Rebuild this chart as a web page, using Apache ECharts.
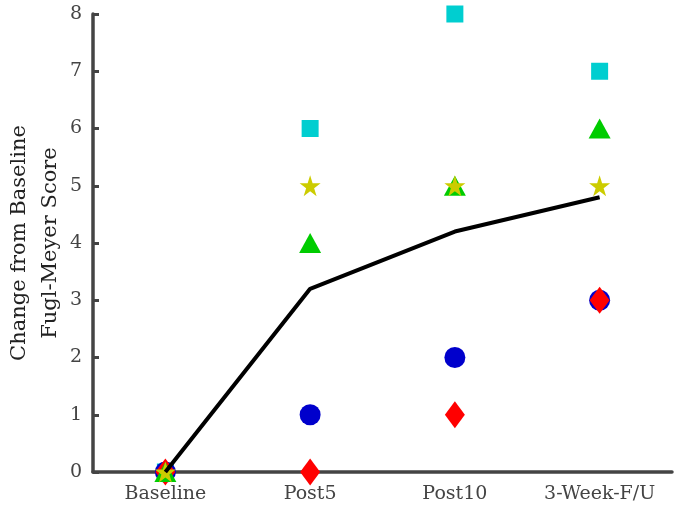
<!DOCTYPE html>
<html>
<head>
<meta charset="utf-8">
<script src="https://cdn.jsdelivr.net/npm/echarts@6/dist/echarts.min.js"></script>
<style>
  html, body { margin: 0; padding: 0; background: #fff; }
  #main { width: 681px; height: 518px; }
</style>
</head>
<body>
<div id="main"></div>
<script>
// categories and per-subject scores (change from baseline)
var categories = ['Baseline', 'Post5', 'Post10', '3-Week-F/U']
var squareData = [0, 6, 8, 7]
var triangleData = [0, 4, 5, 6]
var starData = [0, 5, 5, 5]
var circleData = [0, 1, 2, 3]
var diamondData = [0, 0, 1, 3]
var meanData = [0, 3.2, 4.2, 4.8]
var yTicks = [0, 1, 2, 3, 4, 5, 6, 7, 8]

var myEcharts = echarts.init(document.getElementById('main'))

var fontFam = 'DejaVu Serif'
var axisColor = '#444444'

function scatter(data, symbol, size, color) {
    return {
        type: 'scatter',
        data: data,
        symbol: symbol,
        symbolSize: size,
        itemStyle: { color: color, opacity: 1 },
        silent: true
    }
}

var option = {
    animation: false,
    backgroundColor: '#fff',
    grid: {
        left: 93,
        right: 9,
        top: 14,
        bottom: 46,
        outerBoundsMode: 'none',
        containLabel: false
    },
    xAxis: {
        type: 'category',
        data: categories,
        boundaryGap: true,
        axisLine: { lineStyle: { color: axisColor, width: 3.5 } },
        axisTick: { inside: true, alignWithLabel: true, length: 6, lineStyle: { color: axisColor, width: 3 } },
        axisLabel: {
            color: axisColor,
            fontFamily: fontFam,
            fontSize: 19,
            margin: 13
        },
        splitLine: { show: false }
    },
    yAxis: {
        type: 'value',
        min: yTicks[0],
        max: yTicks[yTicks.length - 1],
        interval: 1,
        name: 'Change from Baseline\nFugl-Meyer Score',
        nameLocation: 'middle',
        nameGap: 27,
        nameMoveOverlap: false,
        nameTextStyle: {
            color: '#222',
            fontFamily: fontFam,
            fontSize: 21,
            lineHeight: 31
        },
        axisLine: { show: true, lineStyle: { color: axisColor, width: 3.5 } },
        axisTick: { show: true, inside: true, length: 6, lineStyle: { color: axisColor, width: 3 } },
        axisLabel: {
            color: axisColor,
            fontFamily: fontFam,
            fontSize: 19,
            margin: 11
        },
        splitLine: { show: false }
    },
    series: [
        scatter(squareData, 'rect', 17, '#00CED0'),
        scatter(circleData, 'circle', 21, '#0000CC'),
        scatter(diamondData, 'diamond', [20, 27], '#FF0000'),
        scatter(triangleData, 'triangle', [22, 20], '#00CC00'),
        scatter(starData, 'path://M50,0 L61.8,36.2 L100,36.2 L69.1,58.8 L80.9,95.1 L50,72.7 L19.1,95.1 L30.9,58.8 L0,36.2 L38.2,36.2 Z', 21, '#CCCC00'),
        {
            type: 'line',
            data: meanData,
            symbol: 'none',
            lineStyle: { color: '#000', width: 4 },
            z: 5,
            silent: true
        }
    ]
}
myEcharts.setOption(option)
</script>
</body>
</html>
